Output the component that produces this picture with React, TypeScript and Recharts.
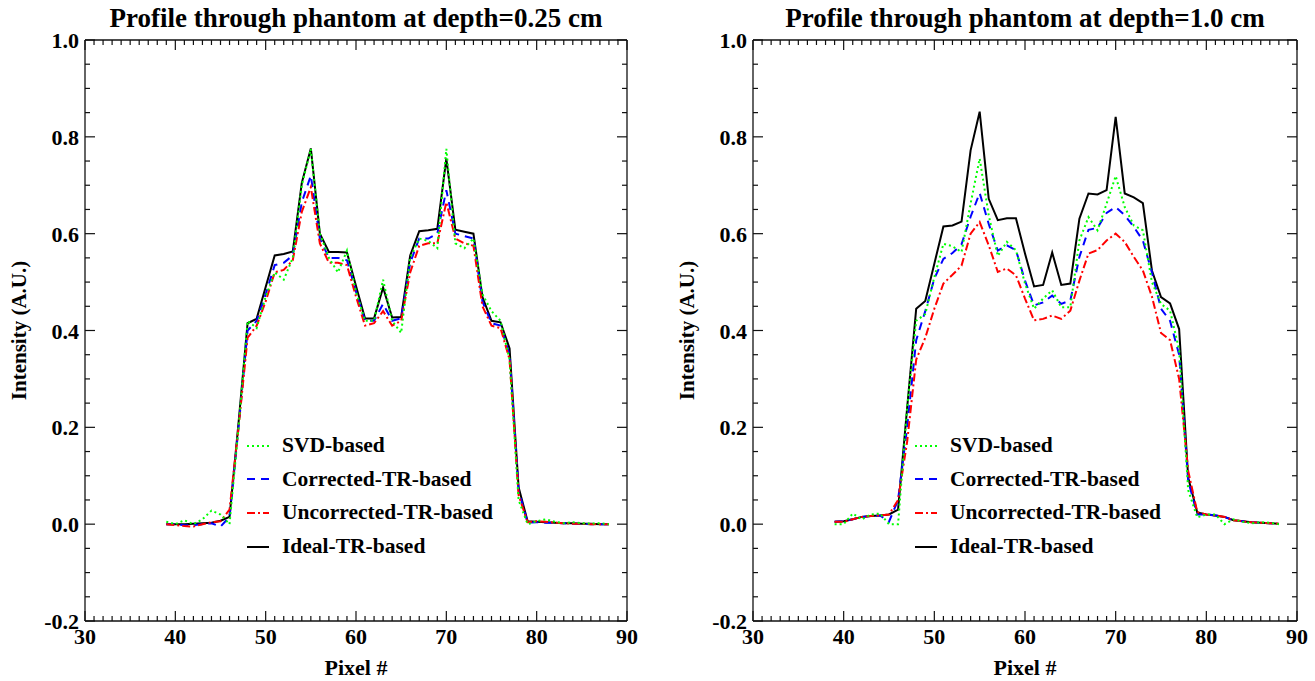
import { LineChart, Line, XAxis, YAxis, Legend } from 'recharts';

const pixels = [
  39, 40, 41, 42, 43, 44, 45, 46, 47, 48, 49, 50, 51, 52, 53, 54, 55, 56, 57, 58, 59, 60, 61, 62, 63,
  64, 65, 66, 67, 68, 69, 70, 71, 72, 73, 74, 75, 76, 77, 78, 79, 80, 81, 82, 83, 84, 85, 86, 87, 88,
];

// depth = 0.25 cm
const svdShallow = [
  0.005, 0.0, 0.008, 0.0, 0.01, 0.028, 0.02, 0.0, 0.2, 0.42, 0.405, 0.47, 0.52, 0.505, 0.55, 0.7, 0.775,
  0.6, 0.55, 0.52, 0.565, 0.48, 0.42, 0.42, 0.505, 0.42, 0.395, 0.55, 0.59, 0.585, 0.57, 0.775, 0.58,
  0.57, 0.59, 0.475, 0.44, 0.42, 0.34, 0.05, 0.0, 0.006, 0.01, 0.005, 0.002, 0.004, 0.002, 0.001, 0.002, 0.0,
];
const correctedShallow = [
  0.0, 0.0, -0.002, -0.002, 0.0, 0.002, -0.005, 0.015, 0.2, 0.4, 0.42, 0.475, 0.535, 0.54, 0.555, 0.665,
  0.72, 0.59, 0.55, 0.55, 0.545, 0.48, 0.42, 0.42, 0.455, 0.42, 0.425, 0.54, 0.59, 0.59, 0.6, 0.69, 0.6,
  0.595, 0.59, 0.46, 0.415, 0.41, 0.35, 0.07, 0.003, 0.004, 0.003, 0.003, 0.002, 0.001, 0.001, 0.0, 0.0, 0.0,
];
const uncorrectedShallow = [
  0.0, -0.002, -0.004, -0.005, 0.0, 0.004, 0.006, 0.03, 0.2, 0.385, 0.41, 0.46, 0.52, 0.525, 0.545, 0.645,
  0.696, 0.58, 0.54, 0.54, 0.535, 0.47, 0.41, 0.415, 0.44, 0.41, 0.42, 0.52, 0.575, 0.58, 0.58, 0.665, 0.59,
  0.58, 0.575, 0.45, 0.41, 0.405, 0.34, 0.06, 0.004, 0.006, 0.005, 0.003, 0.002, 0.001, 0.001, 0.0, 0.0, 0.0,
];
const idealShallow = [
  0.0, 0.0, 0.0, 0.001, 0.002, 0.003, 0.007, 0.015, 0.21, 0.415, 0.424, 0.49, 0.555, 0.558, 0.563, 0.705,
  0.776, 0.6, 0.562, 0.562, 0.561, 0.492, 0.425, 0.425, 0.489, 0.427, 0.428, 0.555, 0.605, 0.607, 0.61, 0.755,
  0.608, 0.604, 0.6, 0.469, 0.42, 0.417, 0.363, 0.076, 0.006, 0.005, 0.004, 0.003, 0.002, 0.002, 0.001, 0.001, 0.0, 0.0,
];

// depth = 1.0 cm
const svdDeep = [
  0.0, 0.0, 0.022, 0.01, 0.02, 0.022, 0.0, 0.0, 0.24, 0.42, 0.434, 0.51, 0.579, 0.574, 0.562, 0.662, 0.755,
  0.638, 0.554, 0.583, 0.566, 0.497, 0.445, 0.466, 0.483, 0.448, 0.448, 0.586, 0.634, 0.607, 0.662, 0.719,
  0.655, 0.617, 0.607, 0.5, 0.455, 0.441, 0.36, 0.07, 0.014, 0.02, 0.02, 0.0, 0.01, 0.005, 0.002, 0.004, 0.003, 0.0,
];
const correctedDeep = [
  0.005, 0.006, 0.01, 0.015, 0.017, 0.018, 0.005, 0.05, 0.2, 0.38, 0.44, 0.507, 0.548, 0.56, 0.578, 0.635,
  0.684, 0.62, 0.565, 0.576, 0.566, 0.503, 0.452, 0.458, 0.472, 0.455, 0.462, 0.552, 0.608, 0.612, 0.643,
  0.655, 0.638, 0.614, 0.586, 0.52, 0.445, 0.42, 0.35, 0.09, 0.02, 0.02, 0.018, 0.015, 0.008, 0.006, 0.004,
  0.003, 0.002, 0.001,
];
const uncorrectedDeep = [
  0.005, 0.005, 0.01, 0.015, 0.017, 0.018, 0.02, 0.05, 0.17, 0.34, 0.385, 0.445, 0.497, 0.515, 0.534, 0.6,
  0.624, 0.576, 0.521, 0.528, 0.514, 0.466, 0.421, 0.424, 0.431, 0.424, 0.441, 0.503, 0.559, 0.566, 0.586,
  0.6, 0.583, 0.552, 0.524, 0.47, 0.395, 0.38, 0.3, 0.11, 0.025, 0.02, 0.018, 0.015, 0.008, 0.006, 0.004,
  0.003, 0.002, 0.001,
];
const idealDeep = [
  0.005, 0.006, 0.01, 0.015, 0.017, 0.018, 0.02, 0.03, 0.24, 0.445, 0.461, 0.538, 0.615, 0.617, 0.625, 0.772,
  0.852, 0.672, 0.628, 0.632, 0.632, 0.559, 0.491, 0.494, 0.561, 0.494, 0.497, 0.631, 0.683, 0.681, 0.69,
  0.841, 0.683, 0.675, 0.663, 0.524, 0.469, 0.456, 0.403, 0.096, 0.024, 0.02, 0.018, 0.015, 0.008, 0.006,
  0.004, 0.003, 0.002, 0.001,
];

const xTicks = Array.from({ length: 61 }, (_, i) => 30 + i);
const yTicks = [
  -0.2, -0.15, -0.1, -0.05, 0.0, 0.05, 0.1, 0.15, 0.2, 0.25, 0.3, 0.35, 0.4, 0.45, 0.5, 0.55, 0.6, 0.65,
  0.7, 0.75, 0.8, 0.85, 0.9, 0.95, 1.0,
];

// legend order
const SERIES = [
  { key: 'svd', name: 'SVD-based', color: '#00ff00', dash: '2 3' },
  { key: 'corrected', name: 'Corrected-TR-based', color: '#0000ff', dash: '8 6' },
  { key: 'uncorrected', name: 'Uncorrected-TR-based', color: '#ff0000', dash: '8 3 2 3' },
  { key: 'ideal', name: 'Ideal-TR-based', color: '#000000', dash: undefined },
];
// draw order: black first, green on top. the black one sits on the top/right axes
// (same domains) so those axes get a series and draw their ticks
const DRAW_ORDER = ['ideal', 'corrected', 'uncorrected', 'svd'];

const FONT = '"Liberation Serif", "Times New Roman", serif';
const AXIS = { stroke: '#111', strokeWidth: 1.3 };
const TICK = '#111';

const isMajorX = (v: number) => v % 10 === 0;
const isMajorY = (v: number) => Math.abs(v * 5 - Math.round(v * 5)) < 1e-6;

const BottomTick = (props: any) => {
  const { x, y, payload } = props;
  const major = isMajorX(payload.value);
  return (
    <g>
      <line x1={x} y1={y} x2={x} y2={y - (major ? 10 : 5)} stroke={TICK} strokeWidth={1.2} />
      {major && (
        <text x={x} y={y + 23} textAnchor="middle" fontFamily={FONT} fontWeight="bold" fontSize={22} fill="#000">
          {payload.value}
        </text>
      )}
    </g>
  );
};

const TopTick = (props: any) => {
  const { x, y, payload } = props;
  const major = isMajorX(payload.value);
  return <line x1={x} y1={y} x2={x} y2={y + (major ? 10 : 5)} stroke={TICK} strokeWidth={1.2} />;
};

const LeftTick = (props: any) => {
  const { x, y, payload } = props;
  const major = isMajorY(payload.value);
  return (
    <g>
      <line x1={x} y1={y} x2={x + (major ? 10 : 5)} y2={y} stroke={TICK} strokeWidth={1.2} />
      {major && (
        <text x={x - 6} y={y + 8} textAnchor="end" fontFamily={FONT} fontWeight="bold" fontSize={22} fill="#000">
          {payload.value.toFixed(1)}
        </text>
      )}
    </g>
  );
};

const RightTick = (props: any) => {
  const { x, y, payload } = props;
  const major = isMajorY(payload.value);
  return <line x1={x} y1={y} x2={x - (major ? 10 : 5)} y2={y} stroke={TICK} strokeWidth={1.2} />;
};

const renderLegend = () => (
  <div style={{ fontFamily: FONT, fontWeight: 'bold', fontSize: 21.5, color: '#000', lineHeight: 1 }}>
    {SERIES.map((s) => (
      <div key={s.key} style={{ display: 'flex', alignItems: 'center', height: 33.6 }}>
        <svg width={22} height={6} style={{ marginRight: 13 }}>
          <line x1={0} y1={3} x2={22} y2={3} stroke={s.color} strokeWidth={2} strokeDasharray={s.dash} />
        </svg>
        <span>{s.name}</span>
      </div>
    ))}
  </div>
);

interface PanelProps {
  title: string;
  svd: number[];
  corrected: number[];
  uncorrected: number[];
  ideal: number[];
  width: number;
  rightMargin: number;
}

function Panel({ title, svd, corrected, uncorrected, ideal, width, rightMargin }: PanelProps) {
  const data = pixels.map((p, i) => ({
    pixel: p,
    svd: svd[i],
    corrected: corrected[i],
    uncorrected: uncorrected[i],
    ideal: ideal[i],
  }));
  return (
    <LineChart width={width} height={681} data={data} margin={{ top: 0, right: rightMargin, bottom: 0, left: 15 }}>
      <XAxis
        dataKey="pixel"
        type="number"
        domain={[30, 90]}
        ticks={xTicks}
        interval={0}
        height={60}
        tickSize={0}
        tickMargin={0}
        tick={BottomTick}
        tickLine={false}
        axisLine={AXIS}
        label={{
          value: 'Pixel #',
          position: 'insideBottom',
          offset: 6,
          style: { fontFamily: FONT, fontWeight: 'bold', fontSize: 22, fill: '#000' },
        }}
      />
      <XAxis
        xAxisId="top"
        dataKey="pixel"
        orientation="top"
        type="number"
        domain={[30, 90]}
        ticks={xTicks}
        interval={0}
        height={40}
        tickSize={0}
        tickMargin={0}
        tick={TopTick}
        tickLine={false}
        axisLine={AXIS}
        label={{
          value: title,
          position: 'insideTop',
          offset: 8,
          style: { fontFamily: FONT, fontWeight: 'bold', fontSize: 27, fill: '#000' },
        }}
      />
      <YAxis
        type="number"
        domain={[-0.2, 1.0]}
        ticks={yTicks}
        interval={0}
        width={70}
        tickSize={0}
        tickMargin={0}
        tick={LeftTick}
        tickLine={false}
        axisLine={AXIS}
        label={{
          value: 'Intensity (A.U.)',
          angle: -90,
          position: 'insideLeft',
          offset: 4,
          style: { fontFamily: FONT, fontWeight: 'bold', fontSize: 21, fill: '#000', textAnchor: 'middle' },
        }}
      />
      <YAxis
        yAxisId="right"
        orientation="right"
        type="number"
        domain={[-0.2, 1.0]}
        ticks={yTicks}
        interval={0}
        width={1}
        tickSize={0}
        tickMargin={0}
        tick={RightTick}
        tickLine={false}
        axisLine={AXIS}
      />
      <Legend
        layout="vertical"
        align="center"
        verticalAlign="middle"
        content={renderLegend}
        wrapperStyle={{ left: 247, top: 429, width: 280 }}
      />
      {DRAW_ORDER.map((k) => {
        const s = SERIES.find((d) => d.key === k)!;
        const onFrame = k === 'ideal';
        return (
          <Line
            key={s.key}
            xAxisId={onFrame ? 'top' : 0}
            yAxisId={onFrame ? 'right' : 0}
            type="linear"
            dataKey={s.key}
            name={s.name}
            stroke={s.color}
            strokeWidth={2}
            strokeDasharray={s.dash}
            dot={false}
            activeDot={false}
            isAnimationActive={false}
          />
        );
      })}
    </LineChart>
  );
}

export default function App() {
  return (
    <div style={{ position: 'absolute', left: 0, top: 0, width: 1315, height: 681, background: '#fff' }}>
      <div style={{ position: 'absolute', left: 0, top: 0 }}>
        <Panel
          title="Profile through phantom at depth=0.25 cm"
          svd={svdShallow}
          corrected={correctedShallow}
          uncorrected={uncorrectedShallow}
          ideal={idealShallow}
          width={657}
          rightMargin={29}
        />
      </div>
      <div style={{ position: 'absolute', left: 668, top: 0 }}>
        <Panel
          title="Profile through phantom at depth=1.0 cm"
          svd={svdDeep}
          corrected={correctedDeep}
          uncorrected={uncorrectedDeep}
          ideal={idealDeep}
          width={647}
          rightMargin={17}
        />
      </div>
    </div>
  );
}
